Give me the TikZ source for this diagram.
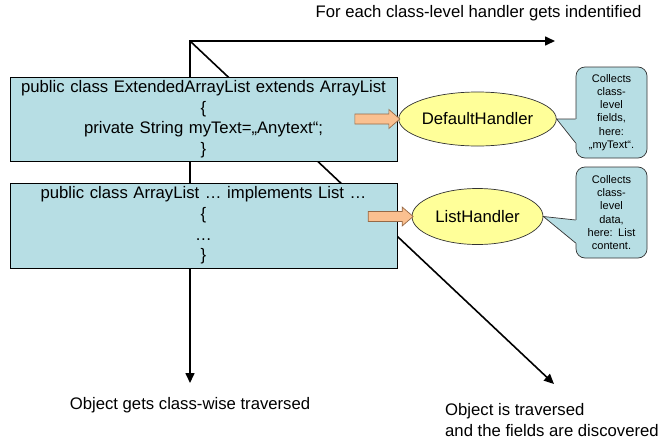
\documentclass[tikz,border=0pt]{standalone}
\usepackage{fontspec}
\setmainfont{Liberation Sans}
\usetikzlibrary{calc,arrows.meta,shapes.geometric}
\definecolor{boxblue}{RGB}{183,222,228}
\definecolor{handleryellow}{RGB}{255,255,153}
\definecolor{pushorange}{RGB}{250,192,144}
\definecolor{pushedge}{RGB}{150,105,70}
\def\pushto(#1){\draw[pusharrow] ($(#1)+(-45,-5)$) -- ($(#1)+(-11,-5)$) -- ($(#1)+(-11,-9.5)$) -- (#1) -- ($(#1)+(-11,9.5)$) -- ($(#1)+(-11,5)$) -- ($(#1)+(-45,5)$) -- cycle;}
\tikzset{
	codebox/.style={draw=black, line width=0.8pt, fill=boxblue, minimum width=387, text width=380, align=center, inner sep=0pt, font=\fontsize{16.7}{20.6}\selectfont},
	handler/.style={ellipse, draw=black!80, line width=0.7pt, fill=handleryellow, minimum width=131, minimum height=54, inner sep=0pt, font=\fontsize{16.7}{20}\selectfont},
	pusharrow/.style={draw=pushedge, line width=0.7pt, fill=pushorange},
	note/.style={rectangle, rounded corners=9pt, draw=black!80, line width=0.7pt, fill=boxblue, minimum width=71, minimum height=91, text width=66, align=center, inner sep=0pt, font=\fontsize{11}{13.3}\selectfont},
	flow/.style={line width=1.6pt, -{Triangle[length=10pt,width=9pt]}},
	lbl/.style={inner sep=0pt, font=\fontsize{16.7}{21}\selectfont}
}

\begin{document}
\begin{tikzpicture}[x=1pt, y=-1pt]
		%%%%% START %%%%%
		\useasboundingbox (0, 0) rectangle (666, 442);
		
		\coordinate (o) at (190, 41);
		\coordinate (topend) at (555, 41);
		\coordinate (downend) at (190, 383);
		\coordinate (diagend) at (554, 384);
		
		\draw[flow, {Triangle[length=10pt,width=9pt]}-{Triangle[length=10pt,width=9pt]}] (downend) -- (o) -- (topend);
		\draw[flow] (o) -- (diagend);
		
		\node[codebox, minimum height=84] (ext) at (203.5, 119) {public class ExtendedArrayList extends ArrayList\\\{\\private String myText=„Anytext“;\\\}};
		\node[codebox, minimum height=85] (arr) at (203.5, 225.5) {public class ArrayList … implements List …\\\{\\…\\\}};
		
		\node[handler] (dflt) at (477.5, 119) {DefaultHandler};
		\node[handler, minimum height=56] (lst) at (477.5, 216.5) {ListHandler};
		
		\coordinate (push1) at ([xshift=1.5]dflt.west);
		\coordinate (push2) at ([xshift=1.5]lst.west);
		\pushto(push1)
		\pushto(push2)
		
		\node[note] (dfltnote) at (611.5, 112.5) {Collects\\class-\\level\\fields,\\here:\\„myText“.};
		\fill[boxblue] ($(dfltnote.west)+(0,6.5)$) -- (dflt.east) -- ($(dfltnote.west)+(0,30.5)$) -- ++(1.5,0) -- ($(dfltnote.west)+(1.5,6.5)$) -- cycle;
		\draw[draw=black!80, line width=0.7pt] ($(dfltnote.west)+(0,6.5)$) -- (dflt.east) -- ($(dfltnote.west)+(0,30.5)$);
		
		\node[note] (lstnote) at (611.5, 212.5) {Collects\\class-\\level\\data,\\here: List\\content.};
		\fill[boxblue] ($(lstnote.west)+(0,7.5)$) -- (lst.east) -- ($(lstnote.west)+(0,30.5)$) -- ++(1.5,0) -- ($(lstnote.west)+(1.5,7.5)$) -- cycle;
		\draw[draw=black!80, line width=0.7pt] ($(lstnote.west)+(0,7.5)$) -- (lst.east) -- ($(lstnote.west)+(0,30.5)$);
		
		\node[lbl] (toplbl) at (478.5, 13) {For each class-level handler gets indentified};
		\node[lbl] (downlbl) at (190, 405) {Object gets class-wise traversed};
		\node[lbl, align=left, anchor=west] (diaglbl) at (445, 420.5) {Object is traversed\\and the fields are discovered};
		
		%%%%% END %%%%%
	\end{tikzpicture}
\end{document}
